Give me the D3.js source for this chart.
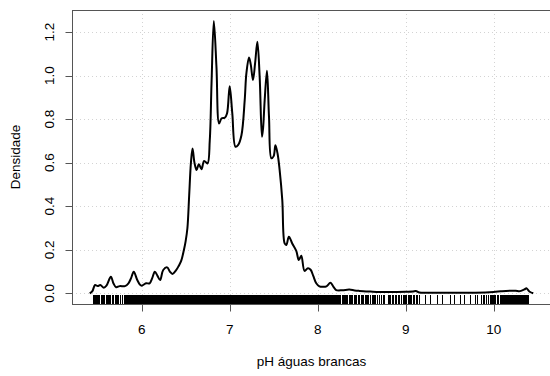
<!DOCTYPE html>
<html>
<head>
<meta charset="utf-8">
<script src="https://cdn.jsdelivr.net/npm/d3@7"></script>
<style>
  body { margin: 0; background: #fff; }
  svg { display: block; font-family: "Liberation Sans", Arial, sans-serif; }
</style>
</head>
<body>
<div id="chart"></div>
<script>
// Density curve (x = pH, y = density)
const densX = [5.41, 5.44, 5.47, 5.50, 5.53, 5.57, 5.60, 5.65, 5.68, 5.71, 5.75, 5.81, 5.85, 5.88, 5.91, 5.95, 5.98,
  6.00, 6.05, 6.09, 6.12, 6.15, 6.18, 6.21, 6.245, 6.29, 6.32, 6.35, 6.39, 6.42, 6.45, 6.48, 6.50, 6.52, 6.54, 6.56,
  6.578, 6.60, 6.624, 6.65, 6.68, 6.71, 6.748, 6.774, 6.794, 6.82, 6.85, 6.88, 6.907, 6.944, 6.97,
  7.00, 7.03, 7.066, 7.095, 7.134, 7.171, 7.19, 7.22, 7.24, 7.265, 7.29, 7.315, 7.341, 7.367, 7.38, 7.398, 7.424,
  7.447, 7.474, 7.50, 7.52, 7.545, 7.568, 7.598, 7.625, 7.644, 7.673, 7.711, 7.757, 7.786, 7.814, 7.851, 7.889,
  7.92, 7.95, 7.984, 8.02, 8.06, 8.10, 8.145, 8.18, 8.21, 8.28, 8.36, 8.42, 8.475, 8.6, 8.7, 8.85, 9.0, 9.08,
  9.116, 9.155, 9.3, 9.457, 9.7, 9.91, 10.0, 10.08, 10.14, 10.2, 10.25, 10.29, 10.31, 10.35, 10.372, 10.39, 10.41, 10.45];
const densY = [0.000, 0.010, 0.038, 0.033, 0.038, 0.026, 0.035, 0.076, 0.045, 0.028, 0.033, 0.033, 0.046, 0.070, 0.099, 0.061, 0.040,
  0.035, 0.046, 0.046, 0.070, 0.099, 0.080, 0.061, 0.107, 0.119, 0.100, 0.089, 0.105, 0.125, 0.150, 0.199, 0.240, 0.300, 0.450, 0.600,
  0.665, 0.600, 0.566, 0.593, 0.570, 0.608, 0.596, 0.703, 0.964, 1.251, 1.040, 0.780, 0.803, 0.806, 0.826,
  0.951, 0.826, 0.673, 0.680, 0.726, 0.887, 1.010, 1.083, 1.050, 0.979, 1.060, 1.155, 0.994, 0.719, 0.760, 0.887, 1.022,
  0.810, 0.620, 0.630, 0.680, 0.640, 0.566, 0.428, 0.229, 0.222, 0.260, 0.229, 0.195, 0.153, 0.172, 0.103, 0.115,
  0.108, 0.080, 0.046, 0.032, 0.030, 0.032, 0.048, 0.030, 0.015, 0.014, 0.017, 0.013, 0.011, 0.008, 0.006, 0.006, 0.007, 0.008,
  0.011, 0.004, 0.003, 0.003, 0.003, 0.004, 0.006, 0.009, 0.011, 0.012, 0.012, 0.010, 0.011, 0.018, 0.023, 0.016, 0.007, 0.000];

// Observed pH values for the rug: "tenths prefix : hundredths digits seen"
const rugGroups = [
  "5.4:56789", "5.5:0124678", "5.6:0123578", "5.7:0123468", "5.8:0123456789", "5.9:0123456789",
  "6.0:0123456789", "6.1:0123456789", "6.2:0123456789", "6.3:0123456789", "6.4:0123456789",
  "6.5:0123456789", "6.6:0123456789", "6.7:0123456789", "6.8:0123456789", "6.9:0123456789",
  "7.0:0123456789", "7.1:0123456789", "7.2:0123456789", "7.3:0123456789", "7.4:0123456789",
  "7.5:0123456789", "7.6:0123456789", "7.7:0123456789", "7.8:0123456789", "7.9:0123456789",
  "8.0:0123456789", "8.1:0123456789", "8.2:01245689", "8.3:02346789", "8.4:0234678", "8.5:0124578",
  "8.6:023568", "8.7:02356", "8.8:023568", "8.9:023579", "9.0:0134679", "9.1:0246",
  "9.2:38", "9.3:6", "9.4:2", "9.5:16", "9.6:27", "9.7:49", "9.8:268", "9.9:0246789",
  "10.0:01245689", "10.1:0123456789", "10.2:0123456789", "10.3:0123456789", "10.4:0"
];

const xTicks = [6, 7, 8, 9, 10];
const yTicks = [0, 0.2, 0.4, 0.6, 0.8, 1.0, 1.2];
const xLabel = "pH águas brancas";
const yLabel = "Densidade";

const rugValues = [];
rugGroups.forEach(function(g) {
  const parts = g.split(":");
  parts[1].split("").forEach(d => rugValues.push(+(parts[0] + d)));
});

const width = 550, height = 376;
const plot = {left: 72, right: 551, top: 10, bottom: 304.2};

const svg = d3.select("#chart").append("svg")
  .attr("width", width)
  .attr("height", height);

// R style: axis limits extended 4% past the data
const xScale = d3.scaleLinear().domain([5.2084, 10.6516]).range([plot.left, plot.right]);
const yScale = d3.scaleLinear().domain([-0.05004, 1.30104]).range([plot.bottom, plot.top]);

// Dotted grid
const grid = svg.append("g")
  .attr("stroke", "#d3d3d3")
  .attr("stroke-width", 1)
  .attr("stroke-dasharray", "1,3");
grid.selectAll(".gx").data(xTicks).enter().append("line")
  .attr("x1", d => Math.round(xScale(d)) + 0.5).attr("x2", d => Math.round(xScale(d)) + 0.5)
  .attr("y1", plot.top).attr("y2", plot.bottom);
grid.selectAll(".gy").data(yTicks).enter().append("line")
  .attr("x1", plot.left).attr("x2", plot.right)
  .attr("y1", d => Math.round(yScale(d)) + 0.5).attr("y2", d => Math.round(yScale(d)) + 0.5);

// Rug (crisp so the packed part reads as a solid band, like R's)
const rugLen = 0.03 * (plot.bottom - plot.top);
svg.append("g")
  .attr("stroke", "#000")
  .attr("stroke-width", 1)
  .attr("shape-rendering", "crispEdges")
  .selectAll("line")
  .data(rugValues)
  .enter().append("line")
  .attr("x1", d => Math.floor(xScale(d)) + 0.5).attr("x2", d => Math.floor(xScale(d)) + 0.5)
  .attr("y1", Math.round(plot.bottom - rugLen)).attr("y2", Math.round(plot.bottom));

// Density line
const line = d3.line()
  .x((d, i) => xScale(densX[i]))
  .y(d => yScale(d))
  .curve(d3.curveCatmullRom.alpha(0.5));

svg.append("path")
  .datum(densY)
  .attr("fill", "none")
  .attr("stroke", "#000")
  .attr("stroke-width", 2)
  .attr("stroke-linejoin", "round")
  .attr("d", line);

// Box
svg.append("rect")
  .attr("x", plot.left + 0.5)
  .attr("y", plot.top + 0.5)
  .attr("width", plot.right - plot.left)
  .attr("height", Math.round(plot.bottom) - plot.top)
  .attr("fill", "none")
  .attr("stroke", "#555")
  .attr("stroke-width", 1);

// X axis ticks + labels
const xAxis = svg.append("g").attr("transform", `translate(0, ${Math.round(plot.bottom) + 0.5})`);
xAxis.selectAll("line").data(xTicks).enter().append("line")
  .attr("x1", d => Math.round(xScale(d)) + 0.5).attr("x2", d => Math.round(xScale(d)) + 0.5)
  .attr("y1", 0).attr("y2", 7)
  .attr("stroke", "#555");
xAxis.selectAll("text").data(xTicks).enter().append("text")
  .attr("x", d => xScale(d))
  .attr("y", 29.5)
  .attr("text-anchor", "middle")
  .style("font-size", "13.5px")
  .text(d => d);

// Y axis ticks + rotated labels
const yAxis = svg.append("g").attr("transform", `translate(${plot.left + 0.5}, 0)`);
yAxis.selectAll("line").data(yTicks).enter().append("line")
  .attr("x1", -7).attr("x2", 0)
  .attr("y1", d => Math.round(yScale(d)) + 0.5).attr("y2", d => Math.round(yScale(d)) + 0.5)
  .attr("stroke", "#555");
yAxis.selectAll("text").data(yTicks).enter().append("text")
  .attr("transform", d => `translate(-18.5, ${yScale(d)}) rotate(-90)`)
  .attr("text-anchor", "middle")
  .style("font-size", "13.5px")
  .text(d => d.toFixed(1));

// Axis titles
svg.append("text")
  .attr("x", (plot.left + plot.right) / 2)
  .attr("y", 366)
  .attr("text-anchor", "middle")
  .style("font-size", "13.5px")
  .text(xLabel);

svg.append("text")
  .attr("transform", `translate(19.5, ${(plot.top + plot.bottom) / 2}) rotate(-90)`)
  .attr("text-anchor", "middle")
  .style("font-size", "13.5px")
  .text(yLabel);
</script>
</body>
</html>
